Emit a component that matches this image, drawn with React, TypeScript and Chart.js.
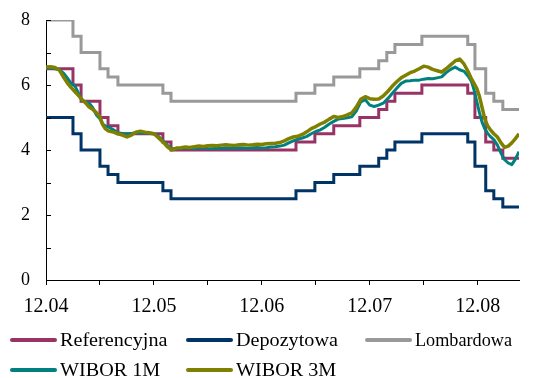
import { useEffect, useRef } from 'react';
import { Chart, registerables } from 'chart.js';

Chart.register(...registerables);

// Time is measured in months from the end of December 2004.

// NBP policy rates: dates of each change and the rate set on that date
const rateChangeMonths = [
  0, 3.0, 3.9, 6.0, 6.9, 8.0, 13.0, 13.9, 27.8, 29.9, 32.0,
  34.9, 37.0, 37.9, 38.8, 41.8, 46.9, 47.7, 48.9, 49.8, 50.8, 52.6,
];
const referencyjna = [
  6.5, 6.0, 5.5, 5.0, 4.75, 4.5, 4.25, 4.0, 4.25, 4.5, 4.75,
  5.0, 5.25, 5.5, 5.75, 6.0, 5.75, 5.0, 4.25, 4.0, 3.75, 3.75,
];
const depozytowa = [
  5.0, 4.5, 4.0, 3.5, 3.25, 3.0, 2.75, 2.5, 2.75, 3.0, 3.25,
  3.5, 3.75, 4.0, 4.25, 4.5, 4.25, 3.5, 2.75, 2.5, 2.25, 2.25,
];
const lombardowa = [
  8.0, 7.5, 7.0, 6.5, 6.25, 6.0, 5.75, 5.5, 5.75, 6.0, 6.25,
  6.5, 6.75, 7.0, 7.25, 7.5, 7.25, 6.5, 5.75, 5.5, 5.25, 5.25,
];

// Interbank rates, sampled on a common time grid
const wiborMonths = [
  // 2005
  0, 0.5, 1, 1.5, 2, 2.4, 2.8, 3.2, 3.6, 4, 4.4, 4.8, 5.2, 5.6, 6, 6.3,
  6.6, 7, 7.5, 8, 8.5, 9, 9.5, 10, 10.5, 11, 11.5, 12, 12.5, 13, 13.5, 14,
  // 2006 - early 2007
  14.5, 15, 15.5, 16, 16.5, 17, 17.5, 18, 18.5, 19, 19.5, 20,
  20.5, 21, 21.5, 22, 22.5, 23, 23.5, 24, 24.5, 25, 25.5, 26,
  // 2007 - autumn 2008
  26.5, 27, 27.5, 28, 28.5, 29, 29.5, 30, 30.5, 31, 31.5, 32, 32.5, 33,
  33.5, 34, 34.5, 35, 35.5, 36, 36.5, 37, 37.5, 38, 38.5, 39, 39.5, 40,
  40.5, 41, 41.5, 42, 42.5, 43, 43.5, 44, 44.5, 45, 45.5, 46, 46.5, 47,
  // late 2008 - 2009
  47.3, 47.6, 47.9, 48.2, 48.5, 48.8, 49.1, 49.4, 49.8, 50.2, 50.6, 51,
  51.4, 51.8, 52.2, 52.6,
];
const wibor1m = [
  6.52, 6.53, 6.50, 6.47, 6.35, 6.20, 6.05, 5.98, 5.75, 5.52, 5.48, 5.44, 5.30, 5.08, 4.96, 4.80,
  4.74, 4.70, 4.62, 4.53, 4.51, 4.49, 4.51, 4.53, 4.52, 4.53, 4.51, 4.50, 4.42, 4.28, 4.15, 4.04,
  4.05, 4.04, 4.06, 4.05, 4.04, 4.06, 4.07, 4.05, 4.04, 4.06, 4.05, 4.07,
  4.06, 4.05, 4.07, 4.06, 4.05, 4.07, 4.08, 4.06, 4.07, 4.09, 4.10, 4.12,
  4.15, 4.22, 4.28, 4.33, 4.37, 4.42, 4.50, 4.57, 4.62, 4.70, 4.80, 4.88, 4.95, 4.97,
  4.99, 5.02, 5.20, 5.48, 5.55, 5.38, 5.34, 5.38, 5.44, 5.58, 5.74, 5.90, 6.05, 6.12,
  6.13, 6.15, 6.15, 6.18, 6.20, 6.19, 6.22, 6.25, 6.38, 6.48, 6.55, 6.47, 6.42, 6.25,
  6.12, 5.85, 5.50, 5.15, 4.85, 4.65, 4.52, 4.42, 4.32, 4.15, 3.90, 3.70,
  3.60, 3.55, 3.72, 3.95,
];
const wibor3m = [
  6.55, 6.56, 6.54, 6.45, 6.22, 6.05, 5.92, 5.80, 5.68, 5.55, 5.45, 5.32, 5.25, 5.15, 5.02, 4.78,
  4.65, 4.58, 4.55, 4.50, 4.46, 4.40, 4.46, 4.55, 4.58, 4.55, 4.53, 4.50, 4.38, 4.25, 4.10, 4.00,
  4.06, 4.07, 4.09, 4.08, 4.10, 4.12, 4.11, 4.13, 4.14, 4.13, 4.15, 4.16,
  4.15, 4.14, 4.16, 4.17, 4.15, 4.16, 4.18, 4.17, 4.19, 4.20, 4.21, 4.23,
  4.28, 4.35, 4.40, 4.42, 4.48, 4.56, 4.66, 4.72, 4.80, 4.86, 4.95, 5.03, 5.00, 5.03,
  5.08, 5.14, 5.32, 5.56, 5.64, 5.58, 5.56, 5.57, 5.66, 5.80, 5.96, 6.10, 6.22, 6.30,
  6.38, 6.43, 6.50, 6.58, 6.55, 6.48, 6.44, 6.40, 6.50, 6.62, 6.74, 6.80, 6.64, 6.38,
  6.20, 6.05, 5.90, 5.65, 5.30, 4.95, 4.75, 4.63, 4.50, 4.40, 4.22, 4.08,
  4.12, 4.22, 4.35, 4.50,
];

const seriesNames = ['Referencyjna', 'Depozytowa', 'Lombardowa', 'WIBOR 1M', 'WIBOR 3M'];
const xTickMonths = [0, 6, 12, 18, 24, 30, 36, 42, 48];
const xTickLabels = ['12.04', '12.05', '12.06', '12.07', '12.08'];
const yTickValues = [0, 1, 2, 3, 4, 5, 6, 7, 8];
const xMaxMonth = 52.6;

const COLORS = ['#993366', '#003366', '#999999', '#008080', '#808000'];
const FONT = '"Liberation Serif", "Times New Roman", serif';

const toPoints = (xs: number[], ys: number[]) => xs.map((x, i) => ({ x, y: ys[i] }));

// Legend placement: three columns, two rows under the axis
const LEGEND_SLOTS = [
  { x: 12, y: 340 },
  { x: 188, y: 340 },
  { x: 367, y: 340 },
  { x: 12, y: 370 },
  { x: 188, y: 370 },
];

const decorPlugin = {
  id: 'ratesDecor',
  afterDraw(chart: any) {
    const { ctx, chartArea, scales } = chart;
    ctx.save();
    // inward tick marks on the value axis
    ctx.strokeStyle = '#000';
    ctx.lineWidth = 1;
    ctx.beginPath();
    for (const v of yTickValues) {
      const y = Math.round(scales.y.getPixelForValue(v)) + 0.5;
      ctx.moveTo(Math.round(chartArea.left), y);
      ctx.lineTo(Math.round(chartArea.left) + 5, y);
    }
    ctx.stroke();

    // legend
    chart.data.datasets.forEach((ds: any, i: number) => {
      const slot = LEGEND_SLOTS[i];
      ctx.strokeStyle = ds.borderColor;
      ctx.lineWidth = 4;
      ctx.lineCap = 'round';
      ctx.beginPath();
      ctx.moveTo(slot.x, slot.y);
      ctx.lineTo(slot.x + 43, slot.y);
      ctx.stroke();

      ctx.save();
      ctx.fillStyle = '#000';
      ctx.font = `18px ${FONT}`;
      ctx.textBaseline = 'alphabetic';
      ctx.textAlign = 'left';
      const sx = 1.12;
      ctx.translate(slot.x + 48, slot.y + 6);
      ctx.scale(sx, 1);
      const room = (512 - (slot.x + 48)) / sx;
      ctx.fillText(ds.label, 0, 0, room);
      ctx.restore();
    });
    ctx.restore();
  },
};

export default function App() {
  const canvasRef = useRef<HTMLCanvasElement | null>(null);

  useEffect(() => {
    const canvas = canvasRef.current;
    if (!canvas) return;

    const stepped = (data: any[], color: string, order: number) => ({
      data,
      borderColor: color,
      backgroundColor: color,
      borderWidth: 3,
      pointRadius: 0,
      stepped: true,
      fill: false,
      order,
    });

    const chart = new Chart(canvas, {
      type: 'line',
      data: {
        datasets: [
          { label: seriesNames[0], ...stepped(toPoints(rateChangeMonths, referencyjna), COLORS[0], 4) },
          { label: seriesNames[1], ...stepped(toPoints(rateChangeMonths, depozytowa), COLORS[1], 3) },
          { label: seriesNames[2], ...stepped(toPoints(rateChangeMonths, lombardowa), COLORS[2], 2) },
          {
            label: seriesNames[3],
            data: toPoints(wiborMonths, wibor1m),
            borderColor: COLORS[3],
            backgroundColor: COLORS[3],
            borderWidth: 3,
            pointRadius: 0,
            tension: 0,
            borderJoinStyle: 'round',
            fill: false,
            order: 1,
          },
          {
            label: seriesNames[4],
            data: toPoints(wiborMonths, wibor3m),
            borderColor: COLORS[4],
            backgroundColor: COLORS[4],
            borderWidth: 3.5,
            pointRadius: 0,
            tension: 0,
            borderJoinStyle: 'round',
            fill: false,
            order: 0,
          },
        ],
      },
      options: {
        responsive: false,
        animation: false,
        events: [],
        layout: { padding: { left: 0, right: 16, top: 20, bottom: 58 } },
        plugins: {
          legend: { display: false },
          tooltip: { enabled: false },
          title: { display: false },
        },
        scales: {
          x: {
            type: 'linear',
            min: 0,
            max: xMaxMonth,
            afterBuildTicks: (scale: any) => {
              scale.ticks = xTickMonths.map((value) => ({ value }));
            },
            afterFit: (scale: any) => {
              scale.height = 40;
            },
            ticks: {
              autoSkip: false,
              maxRotation: 0,
              padding: 10,
              color: '#000',
              font: { family: FONT, size: 20 },
              callback: (value: any) => {
                const v = Number(value);
                return v % 12 === 0 ? xTickLabels[v / 12] : '';
              },
            },
            grid: {
              display: true,
              drawOnChartArea: false,
              drawTicks: true,
              tickLength: 5,
              color: '#000',
              lineWidth: 1,
            },
            border: { display: true, color: '#000', width: 1 },
          },
          y: {
            type: 'linear',
            min: 0,
            max: 8,
            afterBuildTicks: (scale: any) => {
              scale.ticks = yTickValues.map((value) => ({ value }));
            },
            afterFit: (scale: any) => {
              scale.width = 46;
              // the label gap is horizontal only; keep it out of the vertical overflow
              scale.paddingTop = 10;
              scale.paddingBottom = 10;
            },
            ticks: {
              padding: 16,
              color: '#000',
              font: { family: FONT, size: 18 },
              callback: (value: any) => (Number(value) % 2 === 0 ? String(value) : ''),
            },
            grid: { display: false, drawTicks: false },
            border: { display: true, color: '#000', width: 1 },
          },
        },
      } as any,
      plugins: [decorPlugin],
    });

    return () => chart.destroy();
  }, []);

  return (
    <div style={{ position: 'fixed', left: 0, top: 0, width: 535, height: 378, background: '#fff' }}>
      <canvas ref={canvasRef} width={535} height={378} style={{ display: 'block' }} />
    </div>
  );
}
